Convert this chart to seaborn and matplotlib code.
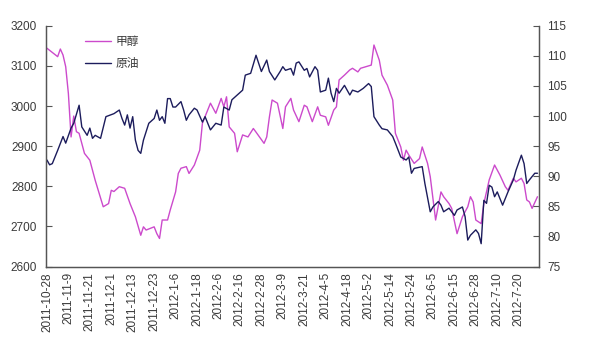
import numpy as np
import pandas as pd
import matplotlib
matplotlib.use("Agg")
import matplotlib.pyplot as plt
from matplotlib.ticker import FixedLocator
import seaborn as sns

# Trading-day index (0 = 2011-10-28) and daily closes
meth_day = [0, 4, 5, 6, 7, 8, 9, 10, 11, 12,
            14, 16, 18, 21, 23, 24, 25, 27, 29, 31,
            33, 35, 36, 37, 40, 41, 42, 43, 45, 46,
            48, 49, 50, 52, 53, 55, 57, 58, 61, 63,
            65, 66, 67, 68, 70, 71, 73, 75, 77, 78,
            81, 82, 83, 84, 86, 88, 89, 91, 92, 94,
            96, 97, 99, 101, 102, 104, 105, 107, 108, 109,
            111, 113, 114, 116, 117, 119, 121, 122, 124, 125,
            127, 129, 130, 132, 133, 134, 135, 137, 139, 140,
            142, 143, 145, 147, 148, 150, 151, 153, 155, 157,
            158, 159, 160, 162, 163, 165, 167, 169, 171, 172,
            174, 175, 177, 178, 179, 180, 181, 183]
meth_val = [3144, 3123, 3142, 3127, 3098, 3031, 2923, 2975, 2936, 2932,
            2882, 2865, 2815, 2749, 2757, 2790, 2787, 2799, 2795, 2757,
            2724, 2678, 2699, 2691, 2699, 2682, 2670, 2716, 2716, 2741,
            2786, 2832, 2845, 2849, 2832, 2853, 2890, 2957, 3007, 2982,
            3019, 2998, 3023, 2948, 2932, 2886, 2928, 2923, 2944, 2935,
            2907, 2923, 2973, 3015, 3007, 2944, 2998, 3019, 2990, 2961,
            3002, 2998, 2961, 2998, 2977, 2973, 2952, 2990, 2998, 3065,
            3077, 3090, 3094, 3085, 3094, 3098, 3102, 3152, 3114, 3077,
            3052, 3015, 2932, 2898, 2865, 2890, 2878, 2857, 2869, 2898,
            2857, 2824, 2716, 2786, 2774, 2757, 2745, 2682, 2724, 2749,
            2774, 2761, 2716, 2707, 2757, 2816, 2853, 2828, 2799, 2790,
            2820, 2811, 2820, 2807, 2766, 2761, 2745, 2774]

oil_day = [0, 1, 2, 4, 6, 7, 9, 10, 12, 13,
           15, 16, 17, 18, 20, 22, 25, 27, 28, 29,
           30, 31, 32, 33, 34, 35, 36, 38, 40, 41,
           42, 43, 44, 45, 46, 47, 48, 50, 51, 52,
           53, 55, 56, 58, 59, 60, 61, 63, 65, 66,
           68, 69, 71, 73, 74, 76, 78, 80, 82, 83,
           85, 87, 88, 89, 91, 92, 93, 94, 96, 97,
           98, 100, 101, 102, 104, 105, 106, 107, 108, 109,
           111, 113, 114, 116, 118, 120, 121, 122, 124, 125,
           127, 129, 130, 132, 134, 135, 136, 137, 140, 141,
           143, 144, 146, 147, 148, 150, 152, 153, 155, 156,
           157, 158, 160, 161, 162, 163, 164, 165, 166, 167,
           168, 170, 172, 174, 175, 177, 178, 179, 180, 182,
           183]
oil_val = [92.7, 91.9, 92.1, 94.3, 96.6, 95.5, 98.0, 98.8, 101.8, 98.2,
           96.8, 98.0, 96.3, 96.8, 96.3, 99.9, 100.4, 101.0, 99.6, 98.5,
           100.2, 98.0, 99.9, 96.0, 94.3, 93.8, 96.0, 98.8, 99.6, 101.0,
           99.3, 99.9, 98.8, 102.9, 102.9, 101.5, 101.5, 102.4, 101.0, 99.3,
           100.2, 101.3, 101.0, 99.0, 99.9, 98.8, 97.7, 98.8, 98.5, 101.5,
           101.0, 102.7, 103.5, 104.3, 106.8, 107.1, 110.1, 107.4, 109.3, 107.4,
           106.0, 107.4, 108.2, 107.6, 107.9, 106.8, 108.8, 109.0, 107.6, 107.9,
           106.5, 108.2, 107.6, 104.0, 104.3, 106.3, 103.8, 102.4, 104.6, 103.8,
           105.1, 103.5, 104.3, 104.0, 104.6, 105.4, 104.9, 99.9, 98.5, 97.9,
           97.7, 96.6, 95.5, 93.2, 92.7, 93.2, 90.5, 91.3, 91.6, 88.8,
           84.1, 84.9, 85.8, 85.2, 84.1, 84.7, 83.5, 84.4, 84.9, 83.3,
           79.4, 80.2, 81.1, 80.5, 78.8, 86.0, 85.5, 88.5, 88.2, 86.6,
           87.4, 85.2, 87.4, 89.4, 91.0, 93.5, 92.1, 88.8, 89.4, 90.5,
           90.5]

n_days = 184
date_labels = ["2011-10-28", "2011-11-9", "2011-11-21", "2011-12-1", "2011-12-13",
               "2011-12-23", "2012-1-6", "2012-1-18", "2012-2-6", "2012-2-16",
               "2012-2-28", "2012-3-9", "2012-3-21", "2012-4-5", "2012-4-18",
               "2012-5-2", "2012-5-14", "2012-5-24", "2012-6-5", "2012-6-15",
               "2012-6-28", "2012-7-10", "2012-7-20"]
label_step = 8

meth_df = pd.DataFrame({"day": meth_day, "price": meth_val})
oil_df = pd.DataFrame({"day": oil_day, "price": oil_val})

sns.set_style("white")
plt.rcParams["font.family"] = ["Liberation Sans", "Noto Sans CJK SC", "DejaVu Sans"]

METH_COLOR = "#CC4ACC"
OIL_COLOR = "#1C1C5C"
AXIS_COLOR = "#555555"
TEXT_COLOR = "#3A3A3A"

fig = plt.figure(figsize=(6.0, 3.48), dpi=100)
ax = fig.add_axes([0.076, 0.234, 0.822, 0.692])
ax2 = ax.twinx()

sns.lineplot(data=meth_df, x="day", y="price", ax=ax, color=METH_COLOR,
             linewidth=1.0, label="甲醇", legend=False)
sns.lineplot(data=oil_df, x="day", y="price", ax=ax2, color=OIL_COLOR,
             linewidth=1.0, label="原油", legend=False)

ax.set_xlim(-0.5, n_days - 0.5)
ax.set_ylim(2600, 3200)
ax2.set_ylim(75, 115)
ax.set_yticks(np.arange(2600, 3201, 100))
ax2.set_yticks(np.arange(75, 116, 5))

label_pos = [i * label_step for i in range(len(date_labels))]
ax.xaxis.set_major_locator(FixedLocator(label_pos))
ax.set_xticklabels(date_labels, rotation=90, fontsize=8.5, color=TEXT_COLOR)
ax.xaxis.set_minor_locator(FixedLocator(np.arange(-0.5, n_days, 1.0)))
ax.tick_params(axis="x", which="major", length=0, pad=4)
ax.tick_params(axis="x", which="minor", direction="in", length=3,
               width=0.6, color=AXIS_COLOR)

ax.tick_params(axis="y", direction="in", length=4, width=0.8,
               color=AXIS_COLOR, labelsize=8.5, labelcolor=TEXT_COLOR, pad=6)
ax2.tick_params(axis="y", direction="in", length=4, width=0.8,
                color=AXIS_COLOR, labelsize=8.5, labelcolor=TEXT_COLOR, pad=6)

ax.set_xlabel("")
ax.set_ylabel("")
ax2.set_ylabel("")

for a in (ax, ax2):
    a.spines["top"].set_visible(False)
    for side in ("left", "right", "bottom"):
        a.spines[side].set_color(AXIS_COLOR)
        a.spines[side].set_linewidth(0.9)
    a.grid(False)

handles = ax.get_lines()[:1] + ax2.get_lines()[:1]
leg = ax2.legend(handles, ["甲醇", "原油"], loc="upper left",
                 bbox_to_anchor=(0.132, 0.915), bbox_transform=fig.transFigure,
                 frameon=False, fontsize=8.5, handlelength=2.2,
                 handletextpad=0.35, labelspacing=0.75, borderpad=0)
for t in leg.get_texts():
    t.set_family(["Noto Sans CJK SC", "DejaVu Sans"])
    t.set_color(TEXT_COLOR)

fig.savefig("out.png", dpi=100, facecolor="white")
